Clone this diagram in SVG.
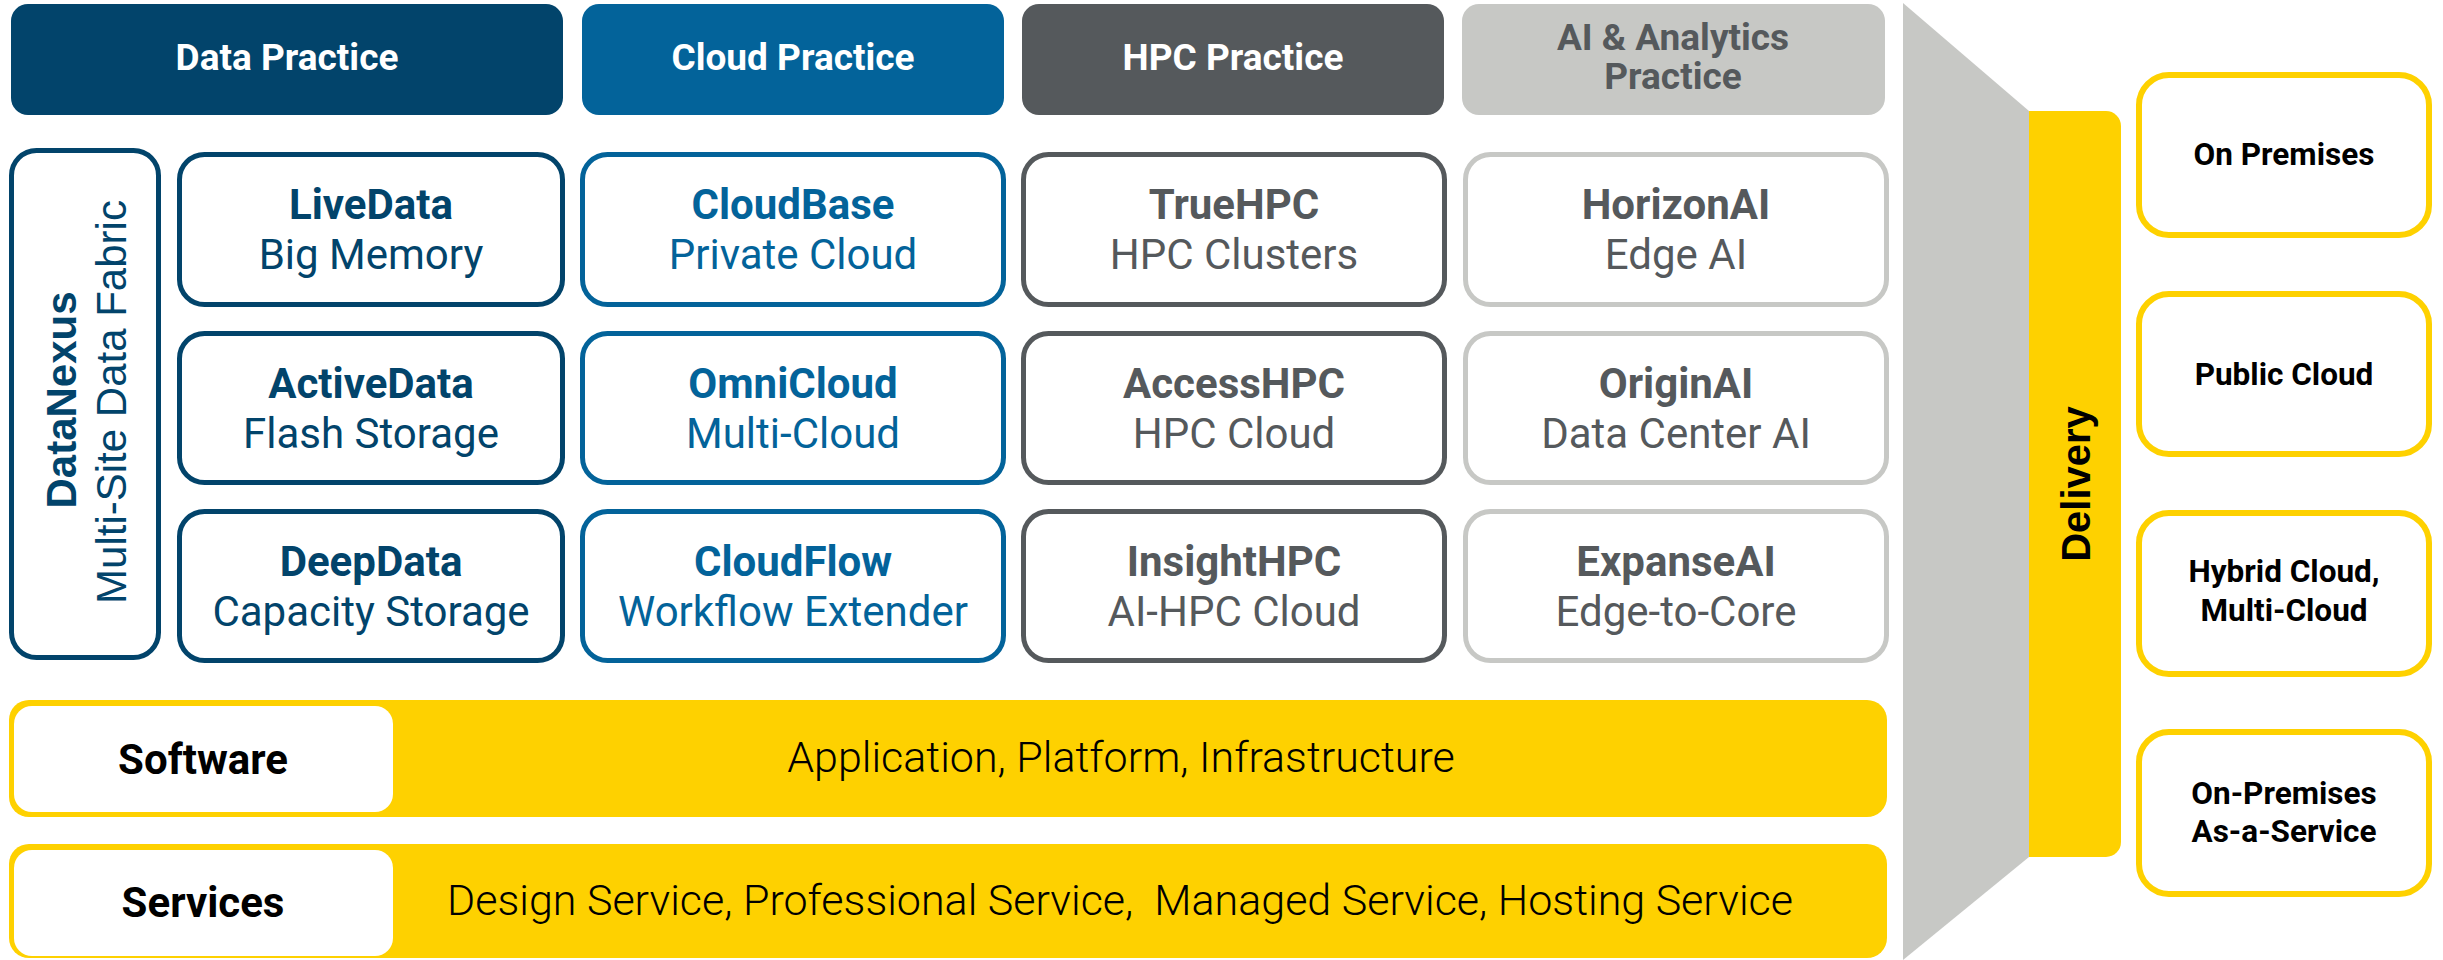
<svg xmlns="http://www.w3.org/2000/svg" width="2443" height="960" viewBox="0 0 2443 960">
<style>
text{font-family:Roboto,"Liberation Sans",sans-serif;text-anchor:middle}
.hdr{font-size:37px;font-weight:700;fill:#fff}
.b{font-size:42px;font-weight:700}
.r{font-size:42px;font-weight:400}
.lt{font-size:43px;font-weight:300;fill:#000}
.box{fill:#fff;stroke-width:5}
.data{stroke:#02446b}.tdata{fill:#02446b}
.cloud{stroke:#03639a}.tcloud{fill:#03639a}
.hpc{stroke:#55595c}.thpc{fill:#55595c}
.ai{stroke:#c7c8c5}.tai{fill:#55595c}
.yel{fill:#fed100}
.dl{fill:#fff;stroke:#fed100;stroke-width:6}
.dt{font-size:31.5px;font-weight:700;fill:#000}
.rot{font-family:"Liberation Sans",Arial,sans-serif}
</style>
<rect width="2443" height="960" fill="#fff"/>
<g id="funnel"><polygon points="1903,3 2029,111 2029,857 1903,960" fill="#c7c8c5"/></g>
<g id="hdr-data"><rect x="11" y="4" width="552" height="111" rx="17" fill="#02446b"/><text class="hdr" x="287" y="70">Data Practice</text></g>
<g id="hdr-cloud"><rect x="582" y="4" width="422" height="111" rx="17" fill="#03639a"/><text class="hdr" x="793" y="70">Cloud Practice</text></g>
<g id="hdr-hpc"><rect x="1022" y="4" width="422" height="111" rx="17" fill="#55595c"/><text class="hdr" x="1233" y="70">HPC Practice</text></g>
<g id="hdr-ai"><rect x="1462" y="4" width="423" height="111" rx="17" fill="#c7c8c5"/><text class="hdr" x="1673" y="50" style="fill:#55595c">AI &amp; Analytics</text><text class="hdr" x="1673" y="89" style="fill:#55595c">Practice</text></g>
<g id="datanexus"><rect class="box data" x="11.5" y="150.5" width="147" height="507" rx="25"/>
<text class="b tdata rot" transform="translate(76,400) rotate(-90)">DataNexus</text>
<text class="r tdata rot" transform="translate(126,402) rotate(-90)">Multi-Site Data Fabric</text></g>
<g id="livedata"><rect class="box data" x="179.5" y="154.5" width="383" height="150" rx="25"/><text class="b tdata" x="371" y="219">LiveData</text><text class="r tdata" x="371" y="269">Big Memory</text></g>
<g id="activedata"><rect class="box data" x="179.5" y="333.5" width="383" height="149" rx="25"/><text class="b tdata" x="371" y="398">ActiveData</text><text class="r tdata" x="371" y="448">Flash Storage</text></g>
<g id="deepdata"><rect class="box data" x="179.5" y="511.5" width="383" height="149" rx="25"/><text class="b tdata" x="371" y="576">DeepData</text><text class="r tdata" x="371" y="626">Capacity Storage</text></g>
<g id="cloudbase"><rect class="box cloud" x="582.5" y="154.5" width="421" height="150" rx="25"/><text class="b tcloud" x="793" y="219">CloudBase</text><text class="r tcloud" x="793" y="269">Private Cloud</text></g>
<g id="omnicloud"><rect class="box cloud" x="582.5" y="333.5" width="421" height="149" rx="25"/><text class="b tcloud" x="793" y="398">OmniCloud</text><text class="r tcloud" x="793" y="448">Multi-Cloud</text></g>
<g id="cloudflow"><rect class="box cloud" x="582.5" y="511.5" width="421" height="149" rx="25"/><text class="b tcloud" x="793" y="576">CloudFlow</text><text class="r tcloud" x="793" y="626">Workflow Extender</text></g>
<g id="truehpc"><rect class="box hpc" x="1023.5" y="154.5" width="421" height="150" rx="25"/><text class="b thpc" x="1234" y="219">TrueHPC</text><text class="r thpc" x="1234" y="269">HPC Clusters</text></g>
<g id="accesshpc"><rect class="box hpc" x="1023.5" y="333.5" width="421" height="149" rx="25"/><text class="b thpc" x="1234" y="398">AccessHPC</text><text class="r thpc" x="1234" y="448">HPC Cloud</text></g>
<g id="insighthpc"><rect class="box hpc" x="1023.5" y="511.5" width="421" height="149" rx="25"/><text class="b thpc" x="1234" y="576">InsightHPC</text><text class="r thpc" x="1234" y="626">AI-HPC Cloud</text></g>
<g id="horizonai"><rect class="box ai" x="1465.5" y="154.5" width="421" height="150" rx="25"/><text class="b tai" x="1676" y="219">HorizonAI</text><text class="r tai" x="1676" y="269">Edge AI</text></g>
<g id="originai"><rect class="box ai" x="1465.5" y="333.5" width="421" height="149" rx="25"/><text class="b tai" x="1676" y="398">OriginAI</text><text class="r tai" x="1676" y="448">Data Center AI</text></g>
<g id="expanseai"><rect class="box ai" x="1465.5" y="511.5" width="421" height="149" rx="25"/><text class="b tai" x="1676" y="576">ExpanseAI</text><text class="r tai" x="1676" y="626">Edge-to-Core</text></g>
<g id="software"><rect class="yel" x="9" y="700" width="1878" height="117" rx="20"/><rect x="14" y="706" width="379" height="106" rx="18" fill="#fff"/><text class="b" x="203" y="774" fill="#000">Software</text><text class="lt" x="1121" y="772">Application, Platform, Infrastructure</text></g>
<g id="services"><rect class="yel" x="9" y="844" width="1878" height="114" rx="20"/><rect x="14" y="850" width="379" height="106" rx="18" fill="#fff"/><text class="b" x="203" y="917" fill="#000">Services</text><text class="lt" x="1120" y="915" xml:space="preserve">Design Service, Professional Service,  Managed Service, Hosting Service</text></g>
<g id="delivery"><path class="yel" d="M2029,111 H2106 A15,15 0 0 1 2121,126 V842 A15,15 0 0 1 2106,857 H2029 Z"/><text class="b rot" transform="translate(2090,484) rotate(-90)" fill="#000" style="font-size:40px">Delivery</text></g>
<g id="on-premises"><rect class="dl" x="2139" y="75" width="290" height="160" rx="30"/><text class="dt" x="2284" y="165">On Premises</text></g>
<g id="public-cloud"><rect class="dl" x="2139" y="294" width="290" height="160" rx="30"/><text class="dt" x="2284" y="385">Public Cloud</text></g>
<g id="hybrid-cloud"><rect class="dl" x="2139" y="513" width="290" height="161" rx="30"/><text class="dt" x="2284" y="582">Hybrid Cloud,</text><text class="dt" x="2284" y="621">Multi-Cloud</text></g>
<g id="on-prem-aas"><rect class="dl" x="2139" y="732" width="290" height="162" rx="30"/><text class="dt" x="2284" y="804">On-Premises</text><text class="dt" x="2284" y="842">As-a-Service</text></g>
<g id="connectors"></g>
</svg>
